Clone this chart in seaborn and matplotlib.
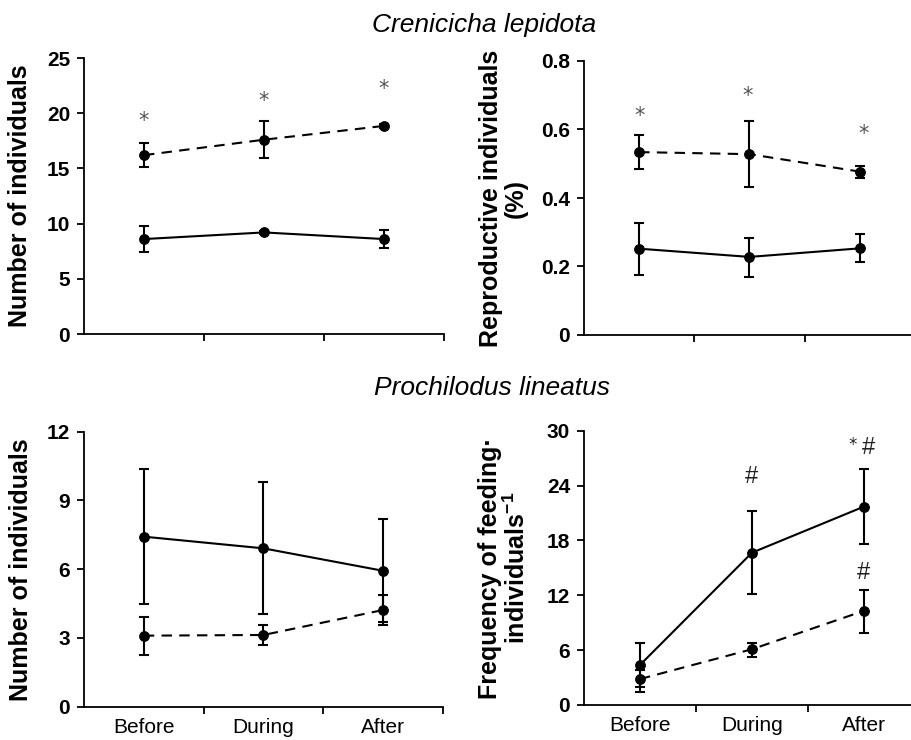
import numpy as np
import pandas as pd
import matplotlib
matplotlib.use("Agg")
import matplotlib.pyplot as plt
import seaborn as sns

conditions = ["Before", "During", "After"]

# Crenicicha lepidota - number of individuals
cl_num_solid = [8.6, 9.2, 8.6]
cl_num_solid_lo = [7.4, 9.05, 7.75]
cl_num_solid_hi = [9.75, 9.35, 9.4]
cl_num_dash = [16.2, 17.6, 18.85]
cl_num_dash_lo = [15.1, 15.95, 18.65]
cl_num_dash_hi = [17.3, 19.3, 19.05]
cl_num_marks = ["*", "*", "*"]
cl_num_mark_y = [19.3, 21.1, 22.2]

# Crenicicha lepidota - reproductive individuals
cl_rep_solid = [0.252, 0.228, 0.253]
cl_rep_solid_lo = [0.174, 0.170, 0.214]
cl_rep_solid_hi = [0.328, 0.282, 0.294]
cl_rep_dash = [0.534, 0.528, 0.477]
cl_rep_dash_lo = [0.484, 0.431, 0.457]
cl_rep_dash_hi = [0.584, 0.625, 0.493]
cl_rep_marks = ["*", "*", "*"]
cl_rep_mark_y = [0.640, 0.699, 0.587]

# Prochilodus lineatus - number of individuals
pl_num_solid = [7.42, 6.91, 5.93]
pl_num_solid_lo = [4.48, 4.04, 3.68]
pl_num_solid_hi = [10.37, 9.80, 8.18]
pl_num_dash = [3.10, 3.13, 4.22]
pl_num_dash_lo = [2.26, 2.69, 3.56]
pl_num_dash_hi = [3.93, 3.55, 4.87]

# Prochilodus lineatus - feeding frequency
pl_feed_solid = [4.38, 16.66, 21.7]
pl_feed_solid_lo = [2.0, 12.1, 17.6]
pl_feed_solid_hi = [6.75, 21.26, 25.8]
pl_feed_dash = [2.84, 6.1, 10.3]
pl_feed_dash_lo = [1.4, 5.2, 7.9]
pl_feed_dash_hi = [3.8, 6.75, 12.6]
pl_feed_marks = ["#", "*", "#", "#"]
pl_feed_mark_x = [1.0, 1.9, 2.04, 2.0]
pl_feed_mark_y = [24.9, 28.4, 28.1, 14.4]

sns.set_style("ticks")
plt.rcParams["font.family"] = ["Liberation Sans", "DejaVu Sans"]
plt.rcParams["mathtext.fontset"] = "custom"
plt.rcParams["mathtext.bf"] = "Liberation Sans:bold"
plt.rcParams["mathtext.rm"] = "Liberation Sans:bold"
plt.rcParams["text.color"] = "black"
plt.rcParams["axes.labelcolor"] = "black"
plt.rcParams["xtick.color"] = "black"
plt.rcParams["ytick.color"] = "black"

fig = plt.figure(figsize=(9.12, 7.4), dpi=100)
ax_tl = fig.add_axes([84 / 912, 1 - 334 / 740, 360 / 912, 276 / 740])
ax_tr = fig.add_axes([584 / 912, 1 - 335 / 740, 331 / 912, 274 / 740])
ax_bl = fig.add_axes([84 / 912, 1 - 706.7 / 740, 359 / 912, 275 / 740])
ax_br = fig.add_axes([584 / 912, 1 - 705 / 740, 336 / 912, 274.3 / 740])

pos = np.arange(len(conditions))


def panel(ax, solid, slo, shi, dash, dlo, dhi):
    df = pd.DataFrame({
        "pos": np.concatenate([pos, pos]),
        "value": solid + dash,
        "group": ["solid"] * 3 + ["dash"] * 3,
    })
    sns.lineplot(data=df, x="pos", y="value", style="group",
                 dashes={"solid": "", "dash": (5, 3.5)},
                 markers={"solid": "o", "dash": "o"},
                 color="black", linewidth=1.5, markersize=7,
                 markeredgecolor="black", legend=False, ax=ax)
    for m, lo, hi in [(solid, slo, shi), (dash, dlo, dhi)]:
        m = np.array(m)
        yerr = np.vstack([m - np.array(lo), np.array(hi) - m])
        ax.errorbar(pos, m, yerr=yerr, fmt="none", ecolor="black",
                    elinewidth=1.5, capsize=3.5, capthick=1.5)
    ax.set_xlim(-0.5, 2.5)
    ax.set_xticks([0.5, 1.5, 2.5])
    ax.set_xticklabels([])
    ax.set_xlabel("")
    sns.despine(ax=ax)
    for s in ["left", "bottom"]:
        ax.spines[s].set_linewidth(1.3)
        ax.spines[s].set_color("black")
    ax.tick_params(axis="both", which="major", direction="out", length=5,
                   width=1.3, color="black")
    ax.tick_params(axis="y", labelsize=15, pad=5)


panel(ax_tl, cl_num_solid, cl_num_solid_lo, cl_num_solid_hi,
      cl_num_dash, cl_num_dash_lo, cl_num_dash_hi)
ax_tl.set_ylim(0, 25)
ax_tl.set_yticks([0, 5, 10, 15, 20, 25])
ax_tl.set_yticklabels(["0", "5", "10", "15", "20", "25"], fontweight="bold")
ax_tl.set_ylabel("Number of individuals", fontsize=18, fontweight="bold")
ax_tl.yaxis.set_label_coords(-0.144, 0.5)
for x, y, t in zip(pos, cl_num_mark_y, cl_num_marks):
    ax_tl.text(x, y, t, ha="center", va="center", fontsize=15,
               color="#555555", family="DejaVu Sans")

panel(ax_tr, cl_rep_solid, cl_rep_solid_lo, cl_rep_solid_hi,
      cl_rep_dash, cl_rep_dash_lo, cl_rep_dash_hi)
ax_tr.set_ylim(0, 0.8)
ax_tr.set_yticks([0, 0.2, 0.4, 0.6, 0.8])
ax_tr.set_yticklabels(["0", "0.2", "0.4", "0.6", "0.8"], fontweight="bold")
ax_tr.set_ylabel("Reproductive individuals\n(%)", fontsize=18,
                 fontweight="bold", linespacing=1.05)
ax_tr.yaxis.set_label_coords(-0.169, 0.5)
for x, y, t in zip(pos + np.array([0, -0.02, 0.03]), cl_rep_mark_y, cl_rep_marks):
    ax_tr.text(x, y, t, ha="center", va="center", fontsize=15,
               color="#555555", family="DejaVu Sans")

panel(ax_bl, pl_num_solid, pl_num_solid_lo, pl_num_solid_hi,
      pl_num_dash, pl_num_dash_lo, pl_num_dash_hi)
ax_bl.set_ylim(0, 12)
ax_bl.set_yticks([0, 3, 6, 9, 12])
ax_bl.set_yticklabels(["0", "3", "6", "9", "12"], fontweight="bold")
ax_bl.set_ylabel("Number of individuals", fontsize=18, fontweight="bold")
ax_bl.yaxis.set_label_coords(-0.142, 0.5)

panel(ax_br, pl_feed_solid, pl_feed_solid_lo, pl_feed_solid_hi,
      pl_feed_dash, pl_feed_dash_lo, pl_feed_dash_hi)
ax_br.set_ylim(0, 30)
ax_br.set_yticks([0, 6, 12, 18, 24, 30])
ax_br.set_yticklabels(["0", "6", "12", "18", "24", "30"], fontweight="bold")
ax_br.set_ylabel("Frequency of feeding\u00b7\nindividuals$^{\\mathbf{-1}}$",
                 fontsize=18, fontweight="bold", linespacing=1.05)
ax_br.yaxis.set_label_coords(-0.161, 0.5)
for x, y, t in zip(pl_feed_mark_x, pl_feed_mark_y, pl_feed_marks):
    fs = 12 if t == "*" else 17
    fam = "DejaVu Sans" if t == "*" else "Liberation Sans"
    ax_br.text(x, y, t, ha="center", va="center", fontsize=fs,
               color="#222222", family=fam)

for ax in (ax_bl, ax_br):
    ax.set_xticks(pos, conditions, minor=True)
    ax.tick_params(axis="x", which="minor", length=0, labelsize=15, pad=8)

fig.text(0.531, 0.966, "Crenicicha lepidota", ha="center", va="center",
         fontsize=19, style="italic")
fig.text(0.539, 0.476, "Prochilodus lineatus", ha="center", va="center",
         fontsize=19, style="italic")

fig.savefig("out.png", dpi=100)
